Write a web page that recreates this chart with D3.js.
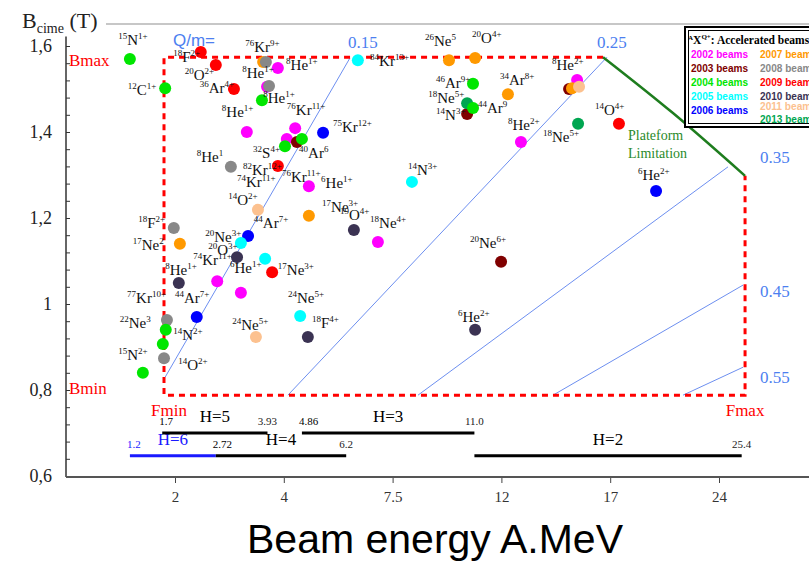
<!DOCTYPE html>
<html>
<head>
<meta charset="utf-8">
<script src="https://cdn.jsdelivr.net/npm/d3@7"></script>
<style>
	body { margin: 0; background: #fff; }
	svg { display: block; }
</style>
</head>
<body>
<svg id="chart" width="809" height="563"></svg>
<script>
// beam campaigns
const years = ["2002", "2003", "2004", "2005", "2006", "2007", "2008", "2009", "2010", "2011", "2013"];
const yearColors = ["#ff00ff", "#800000", "#00e600", "#00ffff", "#0000ff", "#ff9900", "#888888", "#ff0000", "#3b3353", "#fcc18f", "#00a651"];

// accelerated beams: [energy A.MeV, B (T), year]
const beams = [
	[1.20, 1.570, "2004"], [2.41, 1.586, "2009"], [2.72, 1.556, "2009"], [3.12, 1.500, "2009"],
	[1.75, 1.502, "2004"], [3.82, 1.563, "2007"], [3.89, 1.563, "2008"], [4.20, 1.549, "2002"],
	[3.92, 1.505, "2002"], [3.97, 1.507, "2008"], [3.79, 1.474, "2004"], [3.42, 1.400, "2002"],
	[3.05, 1.319, "2008"], [4.20, 1.321, "2009"], [4.67, 1.409, "2002"], [4.44, 1.384, "2002"],
	[4.39, 1.367, "2004"], [4.72, 1.377, "2003"], [4.86, 1.384, "2004"], [5.48, 1.398, "2006"],
	[6.58, 1.567, "2005"], [5.06, 1.274, "2002"], [8.49, 1.284, "2005"], [9.94, 1.567, "2007"],
	[11.03, 1.572, "2007"], [10.94, 1.512, "2004"], [12.48, 1.488, "2007"], [10.69, 1.442, "2003"],
	[10.69, 1.467, "2013"], [10.94, 1.456, "2004"], [13.08, 1.377, "2002"], [15.83, 1.521, "2002"],
	[15.42, 1.500, "2003"], [15.57, 1.502, "2007"], [15.93, 1.505, "2011"], [15.88, 1.419, "2013"],
	[18.05, 1.419, "2009"], [20.14, 1.263, "2006"], [3.69, 1.219, "2011"], [3.45, 1.158, "2006"],
	[1.90, 1.177, "2008"], [2.01, 1.140, "2007"], [3.28, 1.142, "2005"], [3.19, 1.109, "2010"],
	[3.87, 1.105, "2005"], [4.05, 1.074, "2009"], [2.75, 1.053, "2002"], [3.28, 1.026, "2002"],
	[1.99, 1.049, "2010"], [2.33, 0.970, "2006"], [1.78, 0.963, "2008"], [1.76, 0.940, "2004"],
	[1.71, 0.907, "2004"], [1.73, 0.874, "2008"], [1.39, 0.840, "2004"], [3.64, 0.923, "2011"],
	[4.81, 0.972, "2005"], [5.03, 0.923, "2010"], [5.06, 1.205, "2007"], [6.45, 1.172, "2010"],
	[7.26, 1.144, "2002"], [12.17, 1.098, "2003"], [11.03, 0.940, "2010"]
];

// ion labels: [A, X, Q, energy, B] (anchor = left end of the text)
const beamLabels = [
	["15", "N", "1+", 1.04, 1.602], ["18", "F", "2+", 1.89, 1.563], ["20", "O", "2+", 2.10, 1.521],
	["36", "Ar", "4+", 2.39, 1.491], ["12", "C", "1+", 1.17, 1.486], ["76", "Kr", "9+", 3.38, 1.586],
	["8", "He", "1+", 4.42, 1.544], ["8", "He", "1+", 3.31, 1.526], ["8", "He", "1+", 3.82, 1.467],
	["8", "He", "1+", 2.85, 1.435], ["8", "He", "1", 2.33, 1.330], ["32", "S", "4+", 3.57, 1.340],
	["82", "Kr", "12+", 3.33, 1.300], ["74", "Kr", "11+", 3.19, 1.272], ["76", "Kr", "11+", 4.44, 1.440],
	["40", "Ar", "6", 4.78, 1.340], ["75", "Kr", "12+", 5.78, 1.400], ["84", "Kr", "13+", 6.99, 1.553],
	["76", "Kr", "11+", 4.31, 1.284], ["6", "He", "1+", 5.42, 1.270], ["14", "N", "3+", 8.34, 1.300],
	["26", "Ne", "5", 8.99, 1.600], ["20", "O", "4+", 10.90, 1.607], ["46", "Ar", "9+", 9.42, 1.502],
	["34", "Ar", "8+", 12.12, 1.509], ["18", "Ne", "5+", 9.11, 1.467], ["14", "N", "3+", 9.42, 1.428],
	["44", "Ar", "9", 11.15, 1.444], ["8", "He", "2+", 12.48, 1.405], ["8", "He", "2+", 14.57, 1.544],
	["18", "Ne", "5+", 14.13, 1.377], ["14", "O", "4+", 16.76, 1.440], ["6", "He", "2+", 19.11, 1.288],
	["14", "O", "2+", 2.99, 1.230], ["44", "Ar", "7+", 3.59, 1.177], ["18", "F", "2+", 1.32, 1.177],
	["17", "Ne", "2", 1.24, 1.126], ["20", "Ne", "3+", 2.50, 1.144], ["20", "O", "3+", 2.56, 1.114],
	["17", "Ne", "3+", 4.20, 1.067], ["74", "Kr", "11+", 2.26, 1.091], ["6", "He", "1+", 3.03, 1.072],
	["8", "He", "1+", 1.75, 1.067], ["44", "Ar", "7+", 1.92, 1.002], ["77", "Kr", "10+", 1.16, 1.002],
	["22", "Ne", "3", 1.06, 0.944], ["14", "N", "2+", 1.89, 0.916], ["14", "O", "2+", 1.98, 0.847],
	["15", "N", "2+", 1.04, 0.870], ["24", "Ne", "5+", 3.08, 0.940], ["24", "Ne", "5+", 4.47, 1.002],
	["18", "F", "4+", 5.15, 0.944], ["17", "Ne", "3+", 5.45, 1.214], ["19", "O", "4+", 6.00, 1.195],
	["18", "Ne", "4+", 6.99, 1.177], ["20", "Ne", "6+", 10.81, 1.130], ["6", "He", "2+", 10.31, 0.958]
];

// axis ticks
const energyTicks = ["2", "4", "7.5", "12", "17", "24"];
const fieldTicks = [0.6, 0.8, 1, 1.2, 1.4, 1.6];

// Q/m lines: [E1, B1, E2, B2] and where their value is written
const qmValues = ["0.15", "0.25", "0.35", "0.45", "0.55"];
const qmLines = [
	[1.75, 0.830, 6.32, 1.572],
	[4.47, 0.788, 17.40, 1.574],
	[8.72, 0.788, 24.52, 1.319],
	[14.62, 0.788, 25.49, 1.044],
	[21.73, 0.788, 25.49, 0.853]
];
const qmLabelAt = [[6.26, 1.595], [16.87, 1.595], [26.6, 1.328], [26.6, 1.016], [26.6, 0.816]];

// operating window
const bMin = 0.788, bMax = 1.574, fMin = 1.73, fMax = 25.62;
const platformLimit = [[17.19, 1.574], [21.13, 1.444], [25.62, 1.298]];

// harmonic ranges
const harmonics = [6, 5, 4, 3, 2];
const hFrom = ["1.2", "1.7", "2.72", "4.86", "11.0"];
const hTo = ["2.72", "3.93", "6.2", "11.0", "25.4"];
const hField = [0.647, 0.70, 0.647, 0.70, 0.647];
const hFromShown = [true, true, true, true, false];
const hToShown = [false, true, true, true, true];

const serif = "'Liberation Serif','Times New Roman',serif";
const sans = "'Liberation Sans',Arial,sans-serif";

const svg = d3.select("#chart");

// energy axis is a sqrt scale (B ~ sqrt(E) / (Q/m))
const x = d3.scaleSqrt().domain([0, 25]).range([-40, 735.5]);
const y = d3.scaleLinear().domain([0.6, 1.6]).range([476, 46]);
const xTick = d3.scalePoint().domain(energyTicks).range([175, 719]);
const color = d3.scaleOrdinal(years, yearColors);

svg.append("line")
	.attr("x1", 106).attr("x2", 809).attr("y1", 24).attr("y2", 24)
	.attr("stroke", "#b4b4b4").attr("stroke-width", 1.5);

// y axis
const gy = svg.append("g").attr("transform", "translate(66,0)")
	.call(d3.axisLeft(y).tickValues(fieldTicks).tickFormat((d) => String(d).replace(".", ",")).tickSize(-4).tickPadding(14));
gy.select(".domain").remove();
gy.selectAll("text").attr("font-family", serif).attr("font-size", 18).attr("fill", "#222");
gy.selectAll("line").attr("stroke", "#333");

const gyMinor = svg.append("g").attr("transform", "translate(66,0)")
	.call(d3.axisLeft(y).tickValues(d3.range(26).map((i) => 0.6 + i * 0.04)).tickFormat("").tickSize(-4));
gyMinor.select(".domain").remove();
gyMinor.selectAll("line").attr("stroke", "#333");

svg.append("line")
	.attr("x1", 66).attr("x2", 66).attr("y1", y(1.622)).attr("y2", y(0.6) + 1)
	.attr("stroke", "#333").attr("stroke-width", 1.5);

// x axis
const gx = svg.append("g").attr("transform", "translate(0,477)")
	.call(d3.axisBottom(xTick).tickSize(6).tickPadding(8));
gx.select(".domain").remove();
gx.selectAll("text").attr("font-family", serif).attr("font-size", 15).attr("fill", "#333");
gx.selectAll("line").attr("stroke", "#444");

svg.append("line")
	.attr("x1", 66).attr("x2", 809).attr("y1", 477).attr("y2", 477)
	.attr("stroke", "#555").attr("stroke-width", 2);

// titles
const yTitle = svg.append("text").attr("x", 22).attr("y", 28)
	.attr("font-family", serif).attr("font-size", 22).attr("fill", "#222");
yTitle.append("tspan").text("B");
yTitle.append("tspan").attr("font-size", 14).attr("dy", 5).text("cime");
yTitle.append("tspan").attr("dy", -5).text(" (T)");

svg.append("text")
	.attr("x", 435).attr("y", 553)
	.attr("text-anchor", "middle")
	.attr("font-family", sans).attr("font-size", 41).attr("fill", "#000")
	.text("Beam energy A.MeV");

// Q/m lines
svg.append("g")
	.selectAll("line")
	.data(qmLines)
	.join("line")
	.attr("x1", (d) => x(d[0])).attr("y1", (d) => y(d[1]))
	.attr("x2", (d) => x(d[2])).attr("y2", (d) => y(d[3]))
	.attr("stroke", "#6d8ff0").attr("stroke-width", 1);

svg.append("g")
	.selectAll("text")
	.data(qmValues)
	.join("text")
	.attr("x", (d, i) => x(qmLabelAt[i][0]))
	.attr("y", (d, i) => y(qmLabelAt[i][1]))
	.attr("font-family", serif).attr("font-size", 17).attr("fill", "#4d7ff0")
	.text((d) => d);

svg.append("text").attr("x", 173).attr("y", 46)
	.attr("font-family", sans).attr("font-size", 17).attr("fill", "#4d7ff0")
	.text("Q/m=");

// operating window (dashed red)
const line = d3.line().x((d) => x(d[0])).y((d) => y(d[1]));
svg.append("path")
	.attr("d", line([platformLimit[0], [fMin, bMax], [fMin, bMin], [fMax, bMin], [fMax, platformLimit[2][1]]]))
	.attr("fill", "none").attr("stroke", "#ff0000").attr("stroke-width", 3).attr("stroke-dasharray", "6,5");

svg.append("path")
	.attr("d", line.curve(d3.curveNatural)(platformLimit))
	.attr("fill", "none").attr("stroke", "#1e7d1e").attr("stroke-width", 2.5);

const plat = svg.append("text").attr("font-family", serif).attr("font-size", 14).attr("fill", "#2a8a2a");
plat.append("tspan").attr("x", 628).attr("y", 140).text("Plateform");
plat.append("tspan").attr("x", 628).attr("y", 158).text("Limitation");

const redText = (t, px, py, anchor) =>
	svg.append("text").attr("x", px).attr("y", py).attr("text-anchor", anchor)
		.attr("font-family", serif).attr("font-size", 17).attr("fill", "#ff0000").text(t);
redText("Bmax", 69, y(bMax) + 9, "start");
redText("Bmin", 69, y(bMin) - 1, "start");
redText("Fmin", x(fMin) + 5, y(bMin) + 21, "middle");
redText("Fmax", x(fMax), y(bMin) + 21, "middle");

// harmonic ranges
const hg = svg.append("g");
harmonics.forEach((h, i) => {
	const c = h === 6 ? "#1a1aff" : "#000";
	const x1 = x(+hFrom[i]), x2 = x(+hTo[i]), yy = y(hField[i]);
	hg.append("line").attr("x1", x1).attr("x2", x2).attr("y1", yy).attr("y2", yy)
		.attr("stroke", c).attr("stroke-width", 3);
	hg.append("text").attr("x", (x1 + x2) / 2).attr("y", yy - 11).attr("text-anchor", "middle")
		.attr("font-family", serif).attr("font-size", 17).attr("fill", c).text("H=" + h);
	if (hFromShown[i])
		hg.append("text").attr("x", x1 - 3).attr("y", yy - 8)
			.attr("font-family", serif).attr("font-size", 11).attr("fill", c).text(hFrom[i]);
	if (hToShown[i])
		hg.append("text").attr("x", x2).attr("y", yy - 8).attr("text-anchor", "middle")
			.attr("font-family", serif).attr("font-size", 11).attr("fill", "#222").text(hTo[i]);
});

// beams
svg.append("g")
	.selectAll("circle")
	.data(beams)
	.join("circle")
	.attr("cx", (d) => x(d[0]))
	.attr("cy", (d) => y(d[1]))
	.attr("r", 6)
	.attr("fill", (d) => color(d[2]));

// ion labels
const lab = svg.append("g")
	.selectAll("text")
	.data(beamLabels)
	.join("text")
	.attr("x", (d) => x(d[3]))
	.attr("y", (d) => y(d[4]))
	.attr("font-family", serif)
	.attr("font-size", 15)
	.attr("fill", "#111");
lab.append("tspan").attr("font-size", 9).attr("dy", -6).text((d) => d[0]);
lab.append("tspan").attr("dy", 6).text((d) => d[1]);
lab.append("tspan").attr("font-size", 9).attr("dy", -6).text((d) => d[2]);

// legend
const lg = svg.append("g");
lg.append("rect").attr("x", 685).attr("y", 27).attr("width", 140).attr("height", 100)
	.attr("fill", "#fff").attr("stroke", "#000").attr("stroke-width", 2);
lg.append("rect").attr("x", 688.5).attr("y", 30.5).attr("width", 140).attr("height", 93)
	.attr("fill", "none").attr("stroke", "#000").attr("stroke-width", 1);
const lt = lg.append("text").attr("x", 688).attr("y", 44)
	.attr("font-family", serif).attr("font-size", 11.5).attr("font-weight", "bold").attr("fill", "#000");
lt.append("tspan").attr("font-size", 7).attr("dy", -4).text("A");
lt.append("tspan").attr("dy", 4).text("X");
lt.append("tspan").attr("font-size", 7).attr("dy", -5).text("Q+");
lt.append("tspan").attr("dy", 5).text(": Accelerated beams");

lg.selectAll(".item")
	.data(years)
	.join("text")
	.attr("class", "item")
	.attr("x", (d, i) => (i < 5 ? 691 : 760))
	.attr("y", (d, i) => (i < 5 ? 58 + 14 * i : i < 9 ? 58 + 14 * (i - 5) : 110 + 13 * (i - 9)))
	.attr("font-family", sans).attr("font-size", 11.5).attr("font-weight", "bold")
	.attr("textLength", 57).attr("lengthAdjust", "spacingAndGlyphs")
	.attr("fill", (d) => color(d))
	.text((d) => d + " beams");
</script>
</body>
</html>
